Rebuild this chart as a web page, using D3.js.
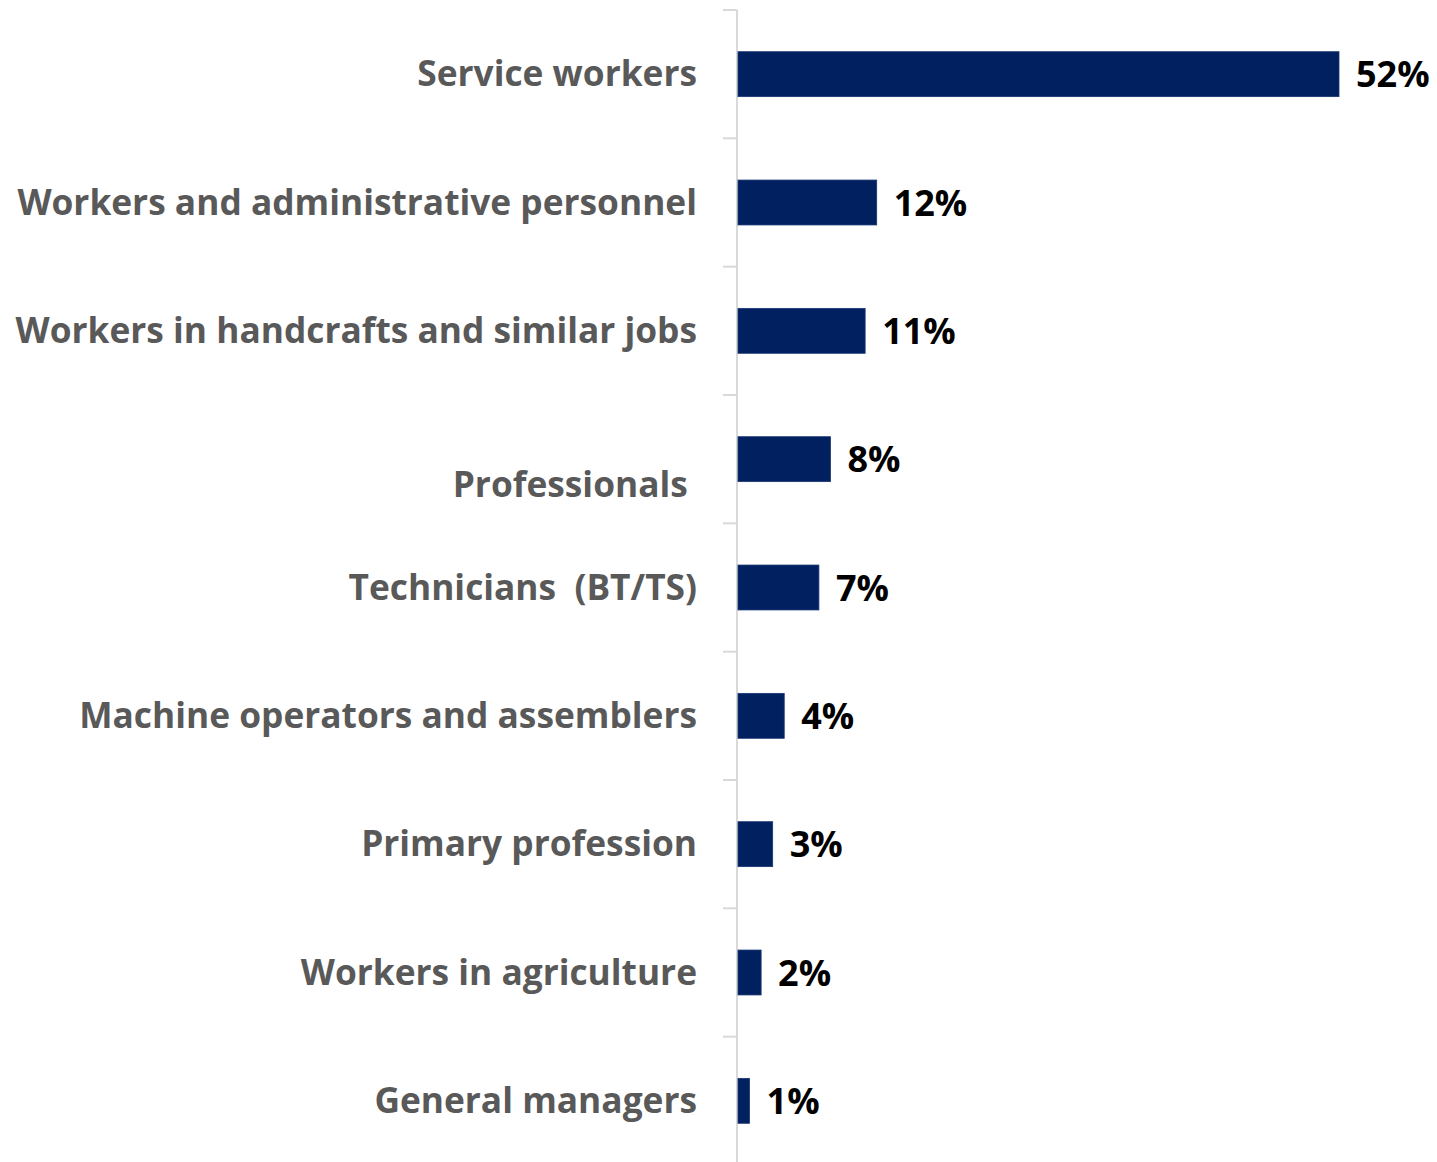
<!DOCTYPE html>
<html>
<head>
<meta charset="utf-8">
<script src="https://cdn.jsdelivr.net/npm/d3@7"></script>
<style>
  html, body { margin: 0; padding: 0; background: #ffffff; }
  svg { display: block; }
  .cat { white-space: pre; }
</style>
</head>
<body>
<div id="chart"></div>
<script>
// Occupation shares (%), top to bottom
const categories = [
  "Service workers",
  "Workers and administrative personnel",
  "Workers in handcrafts and similar jobs",
  "\nProfessionals ",
  "Technicians  (BT/TS)",
  "Machine operators and assemblers",
  "Primary profession",
  "Workers in agriculture",
  "General managers"
];
const values = [52, 12, 11, 8, 7, 4, 3, 2, 1];
const valueLabels = ["52%", "12%", "11%", "8%", "7%", "4%", "3%", "2%", "1%"];

const W = 1437, H = 1162;
const axisX = 737;
const fontFamily = "'Open Sans', Lato, sans-serif";
const fontSize = 35.3;
const valueFontSize = 36;
const lineHeight = 52;

const svg = d3.select("#chart").append("svg")
  .attr("width", W).attr("height", H);

const y = d3.scaleBand()
  .domain(d3.range(categories.length))
  .range([10, 1165])
  .paddingInner(0.65)
  .paddingOuter(0.325);

const x = d3.scaleLinear()
  .domain([0, 52])
  .range([axisX + 1, 1339]);

// category boundaries for the axis ticks
const step = y.step();
const boundaries = d3.range(categories.length + 1).map(i => 10 + i * step);

const axis = svg.append("g");
axis.append("line")
  .attr("x1", axisX).attr("x2", axisX)
  .attr("y1", 10).attr("y2", H)
  .attr("stroke", "#d9d9d9").attr("stroke-width", 2);
axis.selectAll("line.tick").data(boundaries).join("line")
  .attr("class", "tick")
  .attr("x1", axisX - 14).attr("x2", axisX)
  .attr("y1", d => d).attr("y2", d => d)
  .attr("stroke", "#d9d9d9").attr("stroke-width", 2);

// bars
svg.append("g").selectAll("rect").data(values).join("rect")
  .attr("x", x(0))
  .attr("y", (d, i) => y(i))
  .attr("width", d => x(d) - x(0))
  .attr("height", y.bandwidth())
  .attr("fill", "#002060")
  .attr("stroke", "#1a3673")
  .attr("stroke-width", 0.8);

// category labels (multi-line labels are centred on the band)
const labelG = svg.append("g");
categories.forEach((c, i) => {
  const lines = c.split("\n");
  const cy = y(i) + y.bandwidth() / 2;
  const t = labelG.append("text")
    .attr("class", "cat")
    .attr("x", 697)
    .attr("text-anchor", "end")
    .attr("font-family", fontFamily)
    .attr("font-weight", 700)
    .attr("font-size", fontSize)
    .attr("fill", "#595959");
  lines.forEach((ln, k) => {
    t.append("tspan")
      .attr("x", 697)
      .attr("y", cy + 12 + (k - (lines.length - 1) / 2) * lineHeight)
      .text(ln);
  });
});

// value labels
svg.append("g").selectAll("text").data(values).join("text")
  .attr("x", d => x(d) + 17)
  .attr("y", (d, i) => y(i) + y.bandwidth() / 2 + 13)
  .attr("font-family", fontFamily)
  .attr("font-weight", 700)
  .attr("font-size", valueFontSize)
  .attr("fill", "#000000")
  .text((d, i) => valueLabels[i]);
</script>
</body>
</html>
